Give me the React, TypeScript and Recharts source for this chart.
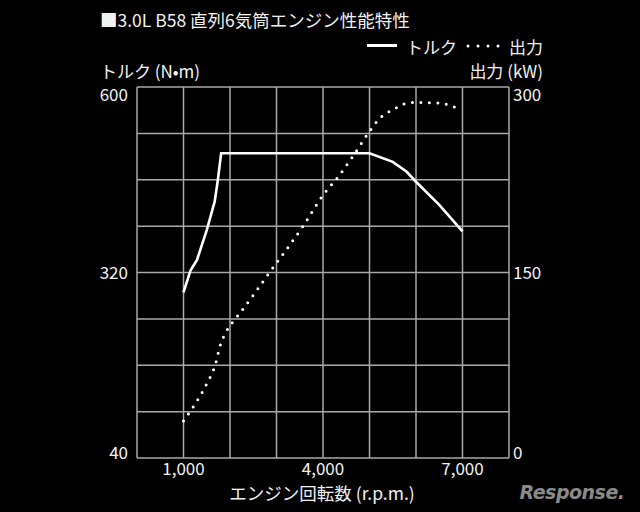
import React from "react";
import { ComposedChart, Line, XAxis, YAxis, CartesianGrid } from "recharts";

const torqueRpm = [1000, 1150, 1290, 1500, 1670, 1730, 1810, 5000, 5500, 5800, 6000, 6500, 7000];
const torqueNm = [290, 323, 339, 384, 427, 455, 500, 500, 487, 472, 457, 422, 382];

const powerRpm = [1000, 1150, 1290, 1500, 1680, 1790, 1900, 2040, 2190, 2870, 3580, 4010, 4340, 4660, 4980, 5230, 5520, 5770, 6000, 6520, 6810, 7000];
const powerKw = [30, 38, 46, 60, 75, 91, 101, 109, 116, 151, 188, 213, 228, 245, 263, 275, 282, 286.5, 287.5, 287, 284, 282];

const xTicks = [0, 1000, 2000, 3000, 4000, 5000, 6000, 7000, 8000];
const xLabels = [1000, 4000, 7000];
const leftTicks = [40, 110, 180, 250, 320, 390, 460, 530, 600];
const leftLabels = [40, 320, 600];
const rightTicks = [0, 37.5, 75, 112.5, 150, 187.5, 225, 262.5, 300];
const rightLabels = [0, 150, 300];

const torqueData = torqueRpm.map((rpm, i) => ({ rpm, torque: torqueNm[i] }));
const powerData = powerRpm.map((rpm, i) => ({ rpm, power: powerKw[i] }));

const FONT = '"Noto Sans CJK JP", "Noto Sans", sans-serif';
const TXT = "#f2f2f2";

const fmt = (v: number) => v.toLocaleString("en-US");

const LeftTick = (props: any) => {
  const { x, y, payload } = props;
  const v = payload.value;
  if (!leftLabels.includes(v)) return <g />;
  const dy = v === 600 ? 14 : v === 40 ? 1 : 6;
  return (
    <text x={x - 7} y={y + dy} textAnchor="end" fill={TXT} fontSize={17} fontFamily={FONT}>
      {v}
    </text>
  );
};

const RightTick = (props: any) => {
  const { x, y, payload } = props;
  const v = payload.value;
  if (!rightLabels.includes(v)) return <g />;
  const dy = v === 300 ? 14 : v === 0 ? 1 : 6;
  return (
    <text x={x + 2} y={y + dy} textAnchor="start" fill={TXT} fontSize={17} fontFamily={FONT}>
      {v}
    </text>
  );
};

const BottomTick = (props: any) => {
  const { x, y, payload } = props;
  const v = payload.value;
  if (!xLabels.includes(v)) return <g />;
  return (
    <text x={x} y={y + 15} textAnchor="middle" fill={TXT} fontSize={17} fontFamily={FONT}>
      {fmt(v)}
    </text>
  );
};

const Label = ({ x, y, children, anchor = "start", size = 17, color = TXT, style = {} }: any) => (
  <div
    style={{
      position: "absolute",
      left: x,
      top: y,
      transform: `translate(${anchor === "end" ? "-100%" : anchor === "middle" ? "-50%" : "0"}, -50%)`,
      fontFamily: FONT,
      fontSize: size,
      color,
      whiteSpace: "nowrap",
      lineHeight: 1,
      ...style,
    }}
  >
    {children}
  </div>
);

export default function App() {
  return (
    <div style={{ position: "fixed", left: 0, top: 0, width: 640, height: 512, background: "#000", overflow: "hidden" }}>
      <ComposedChart width={640} height={512} margin={{ top: 87, right: 91, bottom: 24, left: 0 }}>
        <CartesianGrid yAxisId="left" stroke="#a9a9a9" strokeWidth={1.5} fill="none" />
        <XAxis
          dataKey="rpm"
          type="number"
          domain={[0, 8000]}
          ticks={xTicks}
          interval={0}
          allowDuplicatedCategory={false}
          axisLine={false}
          tickLine={false}
          tickSize={0}
          height={30}
          tick={<BottomTick />}
        />
        <YAxis
          yAxisId="left"
          domain={[40, 600]}
          ticks={leftTicks}
          interval={0}
          axisLine={false}
          tickLine={false}
          tickSize={0}
          width={137}
          tick={<LeftTick />}
        />
        <YAxis
          yAxisId="right"
          orientation="right"
          domain={[0, 300]}
          ticks={rightTicks}
          interval={0}
          axisLine={false}
          tickLine={false}
          tickSize={0}
          width={40}
          tick={<RightTick />}
        />
        <Line
          yAxisId="left"
          data={torqueData}
          dataKey="torque"
          type="linear"
          stroke="#ffffff"
          strokeWidth={2.6}
          dot={false}
          isAnimationActive={false}
        />
        <Line
          yAxisId="right"
          data={powerData}
          dataKey="power"
          type="monotone"
          stroke="#ffffff"
          strokeWidth={3}
          strokeDasharray="0 8.5"
          strokeLinecap="round"
          dot={false}
          isAnimationActive={false}
        />
      </ComposedChart>

      <Label x={100} y={20} size={17.5}>■3.0L B58 直列6気筒エンジン性能特性</Label>

      <div style={{ position: "absolute", left: 367, top: 44, width: 30, height: 3, background: "#fff" }} />
      <Label x={406} y={46} size={17}>トルク</Label>
      <svg style={{ position: "absolute", left: 462, top: 40 }} width={40} height={12}>
        {[0, 1, 2, 3].map((i) => (
          <circle key={i} cx={6 + i * 10} cy={6} r={1.5} fill="#fff" />
        ))}
      </svg>
      <Label x={509} y={46} size={17}>出力</Label>

      <Label x={100} y={70} size={17}>トルク (N•m)</Label>
      <Label x={543} y={70} anchor="end" size={17}>出力 (kW)</Label>

      <Label x={322} y={493} anchor="middle" size={17.5}>エンジン回転数 (r.p.m.)</Label>

      <Label x={572} y={492} anchor="middle" size={19} color="#8a8a8a" style={{ fontStyle: "italic", fontWeight: 700, fontFamily: '"DejaVu Sans", sans-serif', letterSpacing: -0.5 }}>
        Response.
      </Label>
    </div>
  );
}
